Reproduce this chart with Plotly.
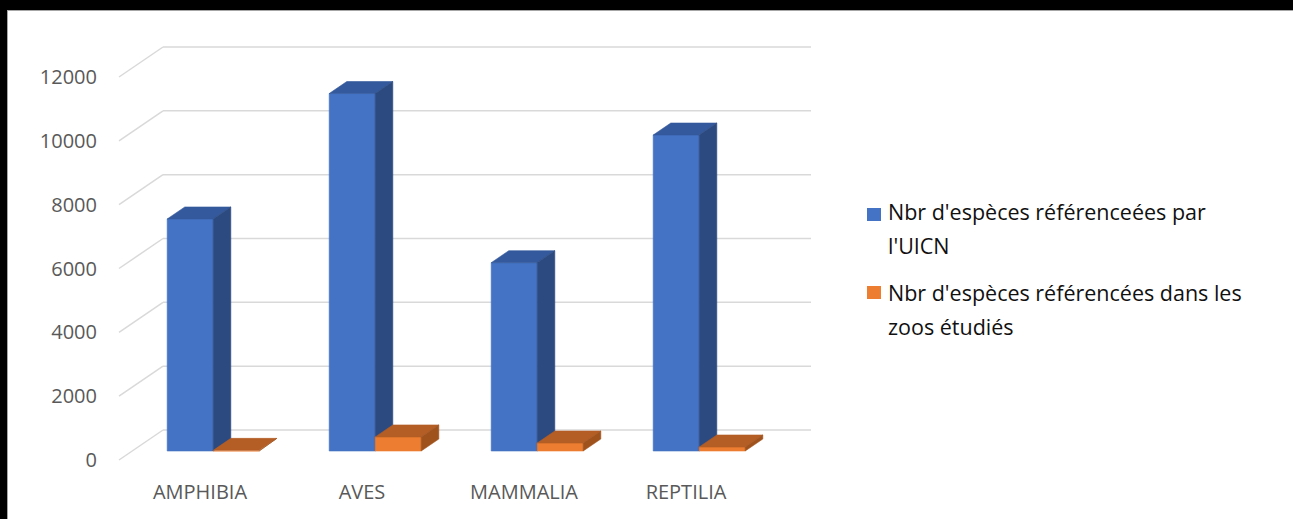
import plotly.graph_objects as go

# ---------------- data ----------------
categories = ["AMPHIBIA", "AVES", "MAMMALIA", "REPTILIA"]
uicn_values = [7270, 11200, 5900, 9900]
zoo_values = [20, 440, 250, 125]
series_names = [
    ["Nbr d'espèces référenceées par", "l'UICN"],
    ["Nbr d'espèces référencées dans les", "zoos étudiés"],
]
y_ticks = [0, 2000, 4000, 6000, 8000, 10000, 12000]

# ---------------- styles / geometry (pixels) ----------------
W, H = 1293, 519
FRONT_X0 = 119          # pixel of x = -0.5 on the front plane
CAT_PX = 162            # pixels per category
ZERO_PX = 460           # pixel of y = 0 on the front plane
PX_PER_UNIT = 383 / 12000
L, R, T, B = 110, 470, 38, 50
PW, PH = W - L - R, H - T - B

x_range = [-0.5 - (FRONT_X0 - L) / CAT_PX, -0.5 + (W - R - FRONT_X0) / CAT_PX]
y_range = [-(H - B - ZERO_PX) / PX_PER_UNIT, (ZERO_PX - T) / PX_PER_UNIT]

DXF = 44 / CAT_PX       # full depth offset, category units
DYF = 30 / PX_PER_UNIT  # full depth offset, value units
BW = 46 / CAT_PX        # bar width, category units
D0, D1 = 0.3, 0.7       # bar front/back depth fractions

colors = [
    dict(front="#4472C4", top="#34599C", side="#2C4A80"),
    dict(front="#ED7D31", top="#B45D24", side="#A0521D"),
]
GRID = "#D9D9D9"
FONT = "Open Sans"


def px2x(px):
    return (px - L) / PW


def px2y(py):
    return 1 - (py - T) / PH


fig = go.Figure()

# ---------------- bars (front, top, side faces) ----------------
ddx = (D1 - D0) * DXF
ddy = (D1 - D0) * DYF
base = D0 * DYF
for s, vals in enumerate([uicn_values, zoo_values]):
    fx, fy, tx, ty, sx, sy = [], [], [], [], [], []
    for i, v in enumerate(vals):
        x0 = i - BW + s * BW + D0 * DXF
        x1 = x0 + BW
        top = base + v
        fx += [x0, x1, x1, x0, x0, None]
        fy += [base, base, top, top, base, None]
        tx += [x0, x1, x1 + ddx, x0 + ddx, x0, None]
        ty += [top, top, top + ddy, top + ddy, top, None]
        sx += [x1, x1 + ddx, x1 + ddx, x1, x1, None]
        sy += [base, base + ddy, top + ddy, top, base, None]
    for xs, ys, key in [(fx, fy, "front"), (tx, ty, "top"), (sx, sy, "side")]:
        c = colors[s][key]
        fig.add_trace(go.Scatter(
            x=xs, y=ys, mode="lines", fill="toself", fillcolor=c,
            line=dict(color=c, width=0.6), hoverinfo="skip", showlegend=False,
        ))

# ---------------- back-wall gridlines ----------------
shapes = []
xl, xr_ = -0.5, 3.5
for v in y_ticks:
    shapes.append(dict(type="line", xref="x", yref="y", layer="below",
                       x0=xl, y0=v, x1=xl + DXF, y1=v + DYF,
                       line=dict(color=GRID, width=1.5)))
    shapes.append(dict(type="line", xref="x", yref="y", layer="below",
                       x0=xl + DXF, y0=v + DYF, x1=xr_ + DXF, y1=v + DYF,
                       line=dict(color=GRID, width=1.5)))

# ---------------- border (black frame on top and left) ----------------
shapes.insert(0, dict(type="rect", xref="paper", yref="paper", layer="below",
                      x0=px2x(0), x1=px2x(W), y0=px2y(10), y1=px2y(0),
                      fillcolor="black", line=dict(width=0)))
shapes.insert(0, dict(type="rect", xref="paper", yref="paper", layer="below",
                      x0=px2x(0), x1=px2x(7), y0=px2y(H), y1=px2y(0),
                      fillcolor="black", line=dict(width=0)))
shapes.append(dict(type="line", xref="paper", yref="paper", layer="below",
                   x0=px2x(7), x1=px2x(W), y0=px2y(10.5), y1=px2y(10.5),
                   line=dict(color="#A6A6A6", width=1)))
shapes.append(dict(type="line", xref="paper", yref="paper", layer="below",
                   x0=px2x(7.5), x1=px2x(7.5), y0=px2y(10), y1=px2y(H),
                   line=dict(color="#A6A6A6", width=1)))

# ---------------- custom legend ----------------
annotations = []
leg_rows = [(208, [211, 245]), (286, [292, 326])]
for s, (sq_top, line_ys) in enumerate(leg_rows):
    shapes.append(dict(type="rect", xref="paper", yref="paper",
                       x0=px2x(867), x1=px2x(881), y0=px2y(sq_top + 13), y1=px2y(sq_top),
                       fillcolor=colors[s]["front"], line=dict(width=0)))
    for text, ly in zip(series_names[s], line_ys):
        annotations.append(dict(xref="paper", yref="paper", x=px2x(886), y=px2y(ly),
                                xanchor="left", yanchor="middle", showarrow=False,
                                text=text, font=dict(family=FONT, size=21.5, color="#111111")))

fig.update_layout(
    width=W, height=H, autosize=False,
    margin=dict(l=L, r=R, t=T, b=B, pad=0),
    paper_bgcolor="white", plot_bgcolor="rgba(0,0,0,0)",
    showlegend=False, shapes=shapes, annotations=annotations,
    xaxis=dict(range=x_range, tickmode="array", tickvals=list(range(len(categories))),
               ticktext=categories, showgrid=False, zeroline=False, showline=False,
               ticks="", ticklabelstandoff=9,
               tickfont=dict(family=FONT, size=20, color="#595959"), fixedrange=True),
    yaxis=dict(range=y_range, tickmode="array", tickvals=y_ticks,
               ticktext=[str(v) for v in y_ticks], showgrid=False, zeroline=False,
               showline=False, ticks="", ticklabelstandoff=12,
               tickfont=dict(family=FONT, size=20, color="#595959"), fixedrange=True),
)

page_style = (
    "document.documentElement.style.background='white';"
    "document.body.style.background='white';"
    "document.body.style.margin='0';"
    "document.body.style.overflow='hidden';"
)
fig.write_html("out.html", post_script=page_style, config={"displayModeBar": False})
